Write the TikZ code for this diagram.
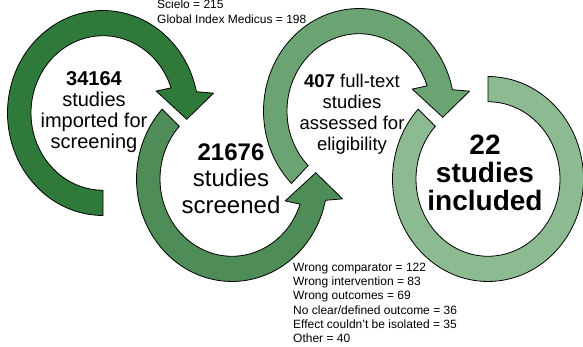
\documentclass[tikz,border=0pt]{standalone}
\usepackage{fontspec}
\setmainfont{Liberation Sans}

\definecolor{stageA}{HTML}{2F7A3A}
\definecolor{stageB}{HTML}{4E8C58}
\definecolor{stageC}{HTML}{6BA373}
\definecolor{stageD}{HTML}{8DBB91}

\begin{document}
\begin{tikzpicture}[
    x=1pt, y=1pt,
    ring/.style={draw=black, line width=0.8pt},
    imported/.style={ring, fill=stageA},
    screened/.style={ring, fill=stageB},
    assessed/.style={ring, fill=stageC},
    included/.style={ring, fill=stageD},
    % base of a multi-line node sits on its last line
    count/.style={align=center, anchor=base, inner sep=0pt},
    note/.style={align=left, anchor=base west, inner sep=0pt,
        font=\fontsize{12}{14.3}\selectfont}
]
\useasboundingbox (0,0) rectangle (583,346);

% first ring, clockwise, head pointing down into the second
\begin{scope}[shift={(103,233)}, yscale=1.073]
    \draw[imported] (270:95.5) arc[start angle=270, end angle=12, radius=95.5]
        -- (9.5:112) -- (-4:84) -- (21:57) -- (19:72)
        arc[start angle=19, end angle=270, radius=72] -- cycle;
\end{scope}

% second ring, counter-clockwise, head pointing up
\begin{scope}[shift={(232,167)}, yscale=1.073]
    \draw[screened] (137:95.5) arc[start angle=137, end angle=348, radius=95.5]
        -- (-9.5:112) -- (4:84) -- (-21:57) -- (-19:72)
        arc[start angle=341, end angle=137, radius=72] -- cycle;
\end{scope}

% third ring, same as the first
\begin{scope}[shift={(359,235)}, yscale=1.073]
    \draw[assessed] (225:95.5) arc[start angle=225, end angle=12, radius=95.5]
        -- (9.5:112) -- (-4:84) -- (21:57) -- (19:72)
        arc[start angle=19, end angle=225, radius=72] -- cycle;
\end{scope}

% last ring, open at the top left, no head
\begin{scope}[shift={(488,167)}, yscale=1.073]
    \draw[included] (90:95.5) arc[start angle=90, end angle=-223, radius=95.5]
        -- (-223:72) arc[start angle=-223, end angle=90, radius=72] -- cycle;
\end{scope}

\node[count, font=\fontsize{20}{21}\selectfont] (imported) at (94,198)
    {\textbf{34164}\\studies\\imported for\\screening};
\node[count, font=\fontsize{24}{26.5}\selectfont] (screened) at (231,133)
    {\textbf{21676}\\studies\\screened};
\node[count, font=\fontsize{18.5}{20.7}\selectfont] (assessed) at (352,196)
    {\textbf{407} full-text\\studies\\assessed for\\eligibility};
\node[count, font=\fontsize{28}{28}\selectfont\bfseries] (included) at (485,136)
    {22\\studies\\included};

\node[note] (sources) at (157,322.7) {Scielo = 215\\Global Index Medicus = 198};
\node[note] (excluded) at (293,3.3)
    {Wrong comparator = 122\\Wrong intervention = 83\\Wrong outcomes = 69\\
     No clear/defined outcome = 36\\Effect couldn’t be isolated = 35\\Other = 40};
\end{tikzpicture}
\end{document}
